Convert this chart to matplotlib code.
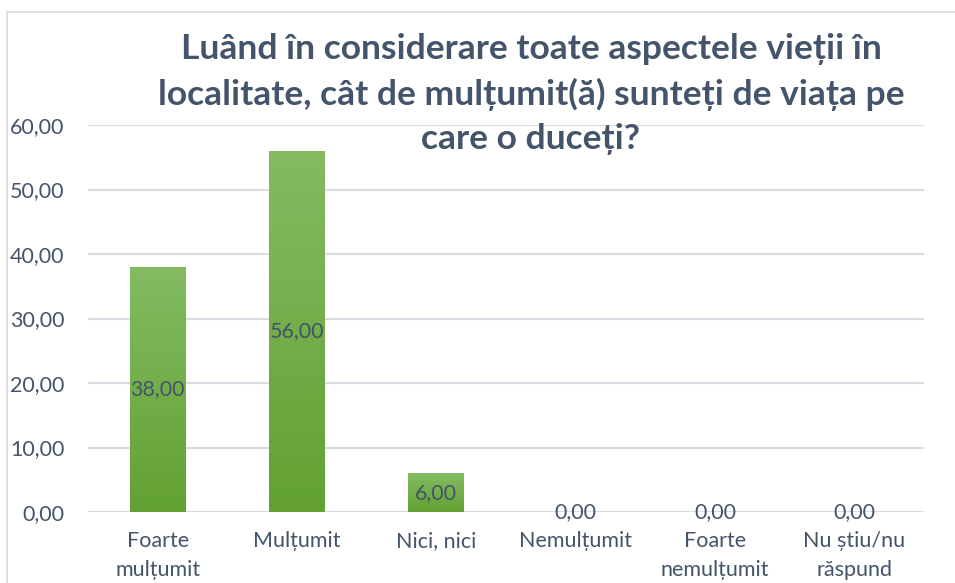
import matplotlib
matplotlib.use("Agg")
import matplotlib.pyplot as plt
import numpy as np
from matplotlib.patches import Rectangle
from matplotlib.colors import LinearSegmentedColormap

plt.rcParams['font.family'] = ['Lato', 'DejaVu Sans']

categories = ["Foarte\nmulțumit", "Mulțumit", "Nici, nici", "Nemulțumit",
              "Foarte\nnemulțumit", "Nu știu/nu\nrăspund"]
values = [38.00, 56.00, 6.00, 0.00, 0.00, 0.00]
yticks = [0, 10, 20, 30, 40, 50, 60]
title = "Luând în considerare toate aspectele vieții în\nlocalitate, cât de mulțumit(ă) sunteți de viața pe\ncare o duceți?"

text_col = "#44546A"
grid_col = "#D9DDE3"

fig = plt.figure(figsize=(9.55, 5.83), dpi=100)
ax = fig.add_axes([88/955, 1-512/583, (924-88)/955, (512-125)/583])

x = np.arange(len(categories))
bars = ax.bar(x, values, width=0.4, color="#6DAC3F", zorder=2)

cmap = LinearSegmentedColormap.from_list("g", ["#62A132", "#84BB63"])
grad = np.linspace(0, 1, 256).reshape(-1, 1)
for b in bars:
    h = b.get_height()
    if h <= 0:
        continue
    x0 = b.get_x(); w = b.get_width()
    im = ax.imshow(grad, cmap=cmap, origin="lower", aspect="auto",
                   extent=[x0, x0 + w, 0, h], zorder=2.5)
    im.set_clip_path(b)

ax.set_xlim(-0.5, len(categories) - 0.5)
ax.set_ylim(0, 60)
ax.set_yticks(yticks)
ax.set_yticklabels([f"{v:.2f}".replace(".", ",") for v in yticks])
ax.set_xticks(x)
ax.set_xticklabels(categories, linespacing=1.55)
ax.tick_params(axis="both", length=0, colors=text_col, labelsize=15.5)
ax.tick_params(axis="y", pad=17)
ax.tick_params(axis="x", pad=14)
for s in ax.spines.values():
    s.set_visible(False)
ax.yaxis.grid(True, color=grid_col, linewidth=1.5, zorder=1)
ax.set_axisbelow(True)

for xi, v in zip(x, values):
    ax.text(xi, v / 2, f"{v:.2f}".replace(".", ","), ha="center", va="center",
            color=text_col, fontsize=15.5, zorder=4)

fig.text(0.556, 1 - 94/583, title, ha="center", va="center", fontsize=25.5,
         fontweight="bold", color=text_col, linespacing=1.45, zorder=5)

border = Rectangle((7/955, -0.01), 1.0, 1 - 12/583 + 0.01, transform=fig.transFigure,
                   fill=False, edgecolor="#D9D9D9", linewidth=1.2)
fig.patches.append(border)

fig.savefig("out.png", dpi=100)
